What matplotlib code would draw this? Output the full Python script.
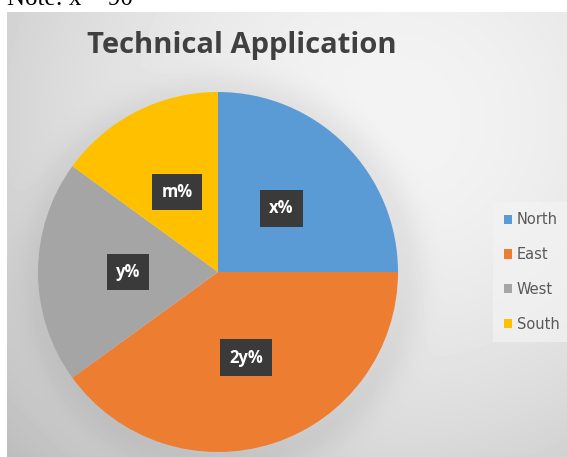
import numpy as np
import matplotlib.pyplot as plt

regions = ['North', 'East', 'West', 'South']
shares = [25, 40, 20, 15]
slice_labels = ['x%', '2y%', 'y%', 'm%']
colors = ['#5B9BD5', '#ED7D31', '#A5A5A5', '#FFC000']

W, H = 567, 457
fig = plt.figure(figsize=(W / 100, H / 100), dpi=100)
fig.patch.set_facecolor('white')

# background of the chart area: soft radial gradient plus a shadow round the pie
bg = fig.add_axes([7 / W, 0, 560 / W, 445 / H])
yy, xx = np.mgrid[0:445, 0:560]
xx = xx + 7
yy = yy + 12
d = np.hypot((xx - 390) / 430, (yy - 120) / 400)
img = 0.955 - 0.15 * np.clip(d, 0, 1.3) ** 1.8
rp = np.hypot(xx - 222, yy - 276)
shadow = np.exp(-((rp - 180) / 24) ** 2) * 0.06
img = np.clip(img - shadow, 0, 1)
bg.imshow(img, cmap='gray', vmin=0, vmax=1, aspect='auto', interpolation='bilinear')
bg.axis('off')

fig.text(7 / W, 1 - 5 / H, 'Note: x = 90', family='Liberation Serif',
         fontsize=18, va='baseline', ha='left', color='black')

fig.text(242 / W, 1 - 46 / H, 'Technical Application', fontsize=21,
         fontweight='bold', color='#404040', ha='center', va='center',
         family='Open Sans')

ax = fig.add_axes([38 / W, 5 / H, 360 / W, 360 / H])
wedges, _ = ax.pie(shares, colors=colors, startangle=90, counterclock=False,
                   radius=1, wedgeprops=dict(linewidth=0))
ax.set_xlim(-1, 1)
ax.set_ylim(-1, 1)
ax.set_aspect('equal')
ax.axis('off')

for w, lab in zip(wedges, slice_labels):
    ang = np.deg2rad((w.theta1 + w.theta2) / 2)
    ax.text(0.5 * np.cos(ang), 0.5 * np.sin(ang), lab, ha='center', va='center',
            color='white', fontsize=12, fontweight='bold', family='Open Sans',
            bbox=dict(boxstyle='square,pad=0.55', fc='#3a3a3a', ec='none'))

leg = fig.legend(wedges, regions, loc='center left', bbox_to_anchor=(486 / W, 1 - 272 / H),
                 frameon=True, fontsize=10.5, handlelength=0.6, handleheight=0.6,
                 handletextpad=0.3, labelspacing=1.35, borderpad=0.7)
leg.get_frame().set_facecolor('#f3f3f3')
leg.get_frame().set_alpha(0.7)
leg.get_frame().set_edgecolor('none')
leg.get_frame().set_boxstyle('square', pad=0)
for t in leg.get_texts():
    t.set_color('#595959')

fig.savefig('out.png', dpi=100)
